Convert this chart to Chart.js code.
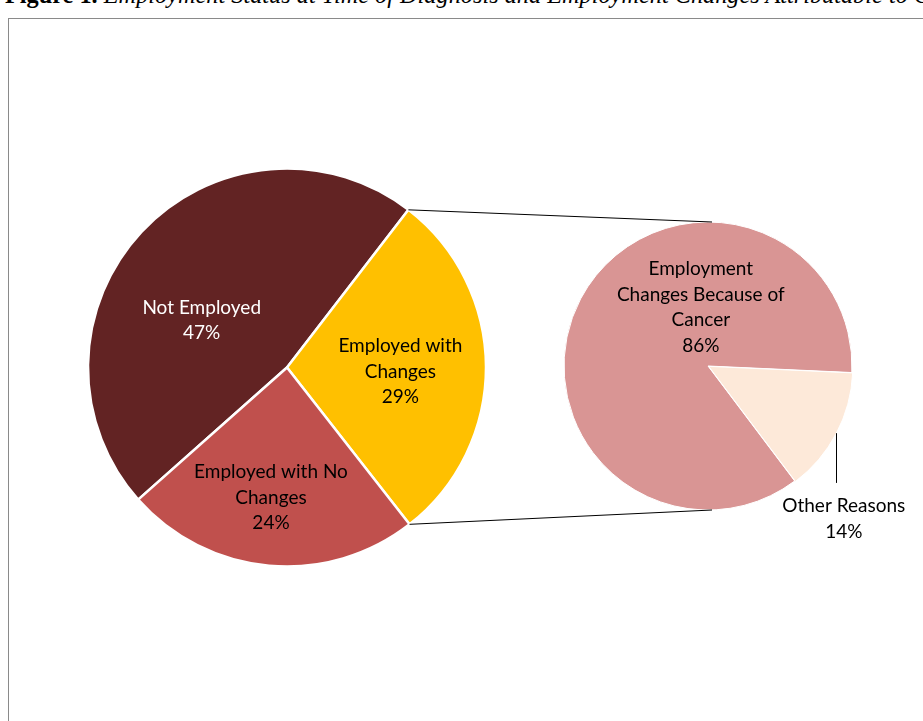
<!DOCTYPE html>
<html>
<head>
<meta charset="utf-8">
<script src="https://cdn.jsdelivr.net/npm/chart.js@4.4.1/dist/chart.umd.min.js"></script>
<style>
  html, body { margin: 0; padding: 0; background: #fff; }
  body { width: 923px; height: 721px; position: relative; overflow: hidden; }
  #title {
    position: absolute; left: 5px; top: -17px; white-space: nowrap;
    font-family: "Liberation Serif", "Times New Roman", serif; font-size: 24.3px; line-height: 24px;
    color: #000; font-style: italic;
  }
  #title b { font-style: normal; }
  #frame {
    position: absolute; left: 8px; top: 18px; width: 1000px; height: 800px;
    border-left: 1px solid #8a8a8a; border-top: 1px solid #8a8a8a;
  }
  .layer { position: absolute; left: 0; top: 0; width: 923px; height: 721px; }
</style>
</head>
<body>
<div id="title"><b>Figure 1.</b> Employment Status at Time of Diagnosis and Employment Changes Attributable to Cancer</div>
<div id="frame"></div>
<div class="layer"><canvas id="main-pie"></canvas></div>
<div class="layer"><canvas id="sub-pie"></canvas></div>
<script>
// employment status at diagnosis (main pie)
const statusLabels = [['Not Employed'], ['Employed with', 'Changes'], ['Employed with No', 'Changes']];
const statusValues = [47, 29, 24];
const statusColors = ['#622323', '#FFC000', '#C0504D'];

// breakdown of "Employed with Changes" (secondary pie)
const changeLabels = [['Employment', 'Changes Because of', 'Cancer'], ['Other Reasons']];
const changeValues = [86, 14];
const changeColors = ['#D99594', '#FDE9D9'];

const FONT = 'Lato, "Noto Sans", sans-serif';

// where each label sits, as [angle in deg clockwise from top, distance / radius]
const statusLabelPos = [[299, 0.49], [92, 0.57], [187, 0.66]];
const changeLabelPos = [[353, 0.41], [138.4, 1.42]];

function toXY(cx, cy, deg, dist) {
  const a = deg * Math.PI / 180;
  return { x: cx + Math.sin(a) * dist, y: cy - Math.cos(a) * dist };
}

function drawLabels(chart, labels, values, pos, colors) {
  const ctx = chart.ctx;
  const arcs = chart.getDatasetMeta(0).data;
  ctx.save();
  ctx.font = '19px ' + FONT;
  ctx.textAlign = 'center';
  ctx.textBaseline = 'middle';
  arcs.forEach((arc, i) => {
    const p = toXY(arc.x, arc.y, pos[i][0], pos[i][1] * arc.outerRadius);
    const lines = labels[i].concat([values[i] + '%']);
    const lh = 25.5;
    ctx.fillStyle = colors[i];
    lines.forEach((t, k) => {
      ctx.fillText(t, p.x, p.y + (k - (lines.length - 1) / 2) * lh);
    });
  });
  ctx.restore();
}

const mainLabelPlugin = {
  id: 'mainLabels',
  afterDatasetsDraw(chart) {
    drawLabels(chart, statusLabels, statusValues, statusLabelPos, ['#ffffff', '#000000', '#000000']);
  }
};

const subLabelPlugin = {
  id: 'subLabels',
  afterDatasetsDraw(chart) {
    drawLabels(chart, changeLabels, changeValues, changeLabelPos, ['#000000', '#000000']);
    const ctx = chart.ctx;
    const arcs = chart.getDatasetMeta(0).data;
    const other = arcs[1];
    // leader line for "Other Reasons"
    const edge = toXY(other.x, other.y, 117.6, other.outerRadius + 1);
    const lab = toXY(other.x, other.y, changeLabelPos[1][0], changeLabelPos[1][1] * other.outerRadius);
    ctx.save();
    ctx.strokeStyle = '#000';
    ctx.lineWidth = 1;
    ctx.beginPath();
    ctx.moveTo(Math.round(edge.x) + 0.5, edge.y);
    ctx.lineTo(Math.round(edge.x) + 0.5, lab.y - 36);
    ctx.stroke();

    // connector lines from the exploded slice of the main pie to the secondary pie
    const main = mainChart.getDatasetMeta(0).data[1];
    const a0 = toXY(main.x, main.y, main.startAngle * 180 / Math.PI + 90, main.outerRadius);
    const a1 = toXY(main.x, main.y, main.endAngle * 180 / Math.PI + 90, main.outerRadius);
    const cx = arcs[0].x, cy = arcs[0].y, r = arcs[0].outerRadius;
    ctx.beginPath();
    ctx.moveTo(a0.x, a0.y);
    ctx.lineTo(cx + 4, cy - r);
    ctx.moveTo(a1.x, a1.y);
    ctx.lineTo(cx + 4, cy + r);
    ctx.stroke();
    ctx.restore();
  }
};

const mainChart = new Chart(document.getElementById('main-pie'), {
  type: 'pie',
  data: {
    labels: statusLabels.map(l => l.join(' ')),
    datasets: [{
      data: statusValues,
      backgroundColor: statusColors,
      borderColor: '#ffffff',
      borderWidth: 2.5,
    }]
  },
  options: {
    responsive: true,
    maintainAspectRatio: false,
    animation: false,
    rotation: 228.4,
    radius: 199,
    layout: { padding: { left: 0, right: 349, top: 14, bottom: 0 } },
    plugins: { legend: { display: false }, tooltip: { enabled: false } },
  },
  plugins: [mainLabelPlugin],
});

const subChart = new Chart(document.getElementById('sub-pie'), {
  type: 'pie',
  data: {
    labels: changeLabels.map(l => l.join(' ')),
    datasets: [{
      data: changeValues,
      backgroundColor: changeColors,
      borderColor: '#ffffff',
      borderWidth: 1,
      offset: [0, 3],
    }]
  },
  options: {
    responsive: true,
    maintainAspectRatio: false,
    animation: false,
    rotation: 143,
    radius: 144,
    layout: { padding: { left: 493, right: 0, top: 11, bottom: 0 } },
    plugins: { legend: { display: false }, tooltip: { enabled: false } },
  },
  plugins: [subLabelPlugin],
});
</script>
</body>
</html>
